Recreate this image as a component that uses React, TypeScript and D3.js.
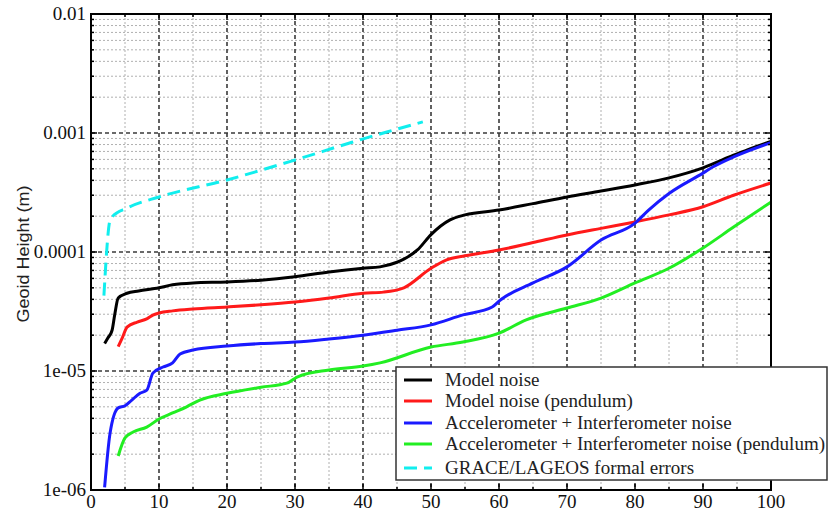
import React from 'react';
import * as d3 from 'd3';

// degree vs geoid height
const modelNoise: [number, number][] = [
  [2, 1.7e-5], [2.5, 1.9e-5], [3.1, 2.2e-5], [3.5, 3e-5], [4, 4.1e-5], [5.3, 4.5e-5], [7, 4.7e-5],
  [10, 5.0e-5], [12, 5.3e-5], [15, 5.5e-5], [20, 5.6e-5], [25, 5.8e-5], [30, 6.2e-5], [35, 6.8e-5],
  [40, 7.3e-5], [42.5, 7.5e-5], [45, 8.2e-5], [46, 8.7e-5], [48, 1.04e-4], [50, 1.4e-4],
  [52.8, 1.86e-4], [55, 2.05e-4], [60, 2.25e-4], [65, 2.55e-4], [70, 2.9e-4], [75, 3.25e-4],
  [80, 3.66e-4], [85, 4.2e-4], [90, 5.1e-4], [94.5, 6.5e-4], [97, 7.4e-4], [100, 8.5e-4],
];
const modelNoisePendulum: [number, number][] = [
  [4, 1.6e-5], [4.6, 1.9e-5], [5.3, 2.34e-5], [6.8, 2.58e-5], [8.2, 2.74e-5], [9.1, 2.95e-5],
  [10, 3.07e-5], [12, 3.2e-5], [15, 3.32e-5], [20, 3.45e-5], [25, 3.6e-5], [30, 3.8e-5],
  [35, 4.1e-5], [40, 4.5e-5], [43, 4.6e-5], [46, 5.0e-5], [50, 7.3e-5], [52.3, 8.6e-5],
  [55, 9.3e-5], [60, 1.04e-4], [65, 1.2e-4], [70, 1.39e-4], [75, 1.58e-4], [80, 1.79e-4],
  [85, 2.05e-4], [90, 2.4e-4], [94.5, 3.0e-4], [100, 3.8e-4],
];
const accelNoise: [number, number][] = [
  [2, 1.05e-6], [2.8, 3e-6], [4, 4.9e-6], [5, 5.1e-6], [6, 5.7e-6], [7.2, 6.5e-6], [8.2, 6.9e-6],
  [9.1, 9.6e-6], [10.6, 1.08e-5], [12, 1.17e-5], [13.1, 1.39e-5], [15, 1.5e-5], [20, 1.62e-5],
  [25, 1.7e-5], [30, 1.75e-5], [35, 1.86e-5], [40, 2.0e-5], [45, 2.2e-5], [50, 2.44e-5],
  [54.7, 2.96e-5], [59, 3.45e-5], [60.2, 3.95e-5], [65, 5.5e-5], [70, 7.5e-5], [75, 1.26e-4],
  [80, 1.75e-4], [82, 2.25e-4], [85, 3.1e-4], [90, 4.6e-4], [91.5, 5.2e-4], [94.5, 6.3e-4],
  [100, 8.3e-4],
];
const accelNoisePendulum: [number, number][] = [
  [4, 1.93e-6], [5, 2.74e-6], [6.2, 3.07e-6], [8.2, 3.38e-6], [10, 3.95e-6], [12, 4.44e-6],
  [14, 4.98e-6], [16, 5.7e-6], [20, 6.5e-6], [25, 7.3e-6], [28.8, 7.9e-6], [30.3, 8.9e-6],
  [35, 1.02e-5], [40, 1.1e-5], [42.5, 1.17e-5], [50, 1.59e-5], [54.7, 1.75e-5], [60, 2.08e-5],
  [64, 2.69e-5], [70, 3.38e-5], [75, 4.1e-5], [80, 5.5e-5], [85, 7.3e-5], [90, 1.08e-4],
  [94.5, 1.62e-4], [100, 2.63e-4],
];
const graceErrors: [number, number][] = [
  [1.9, 4.3e-5], [2.8, 1.86e-4], [3.1, 1.97e-4], [5.3, 2.34e-4], [10, 2.9e-4], [20, 4.03e-4],
  [30, 5.93e-4], [38.5, 8.4e-4], [43.5, 1.02e-3], [48.8, 1.24e-3],
];

const series = [
  { name: 'Model noise', data: modelNoise, color: '#000000', dash: null },
  { name: 'Model noise (pendulum)', data: modelNoisePendulum, color: '#ff1a1a', dash: null },
  { name: 'Accelerometer + Interferometer noise', data: accelNoise, color: '#1a1aff', dash: null },
  { name: 'Accelerometer + Interferometer noise (pendulum)', data: accelNoisePendulum, color: '#22ee22', dash: null },
  { name: 'GRACE/LAGEOS formal errors', data: graceErrors, color: '#11eeee', dash: '13,7' },
];

const xTicks = [0, 10, 20, 30, 40, 50, 60, 70, 80, 90, 100];
const yTicks = [1e-2, 1e-3, 1e-4, 1e-5, 1e-6];
const yTickLabels = ['0.01', '0.001', '0.0001', '1e-05', '1e-06'];

const W = 838;
const H = 516;
const left = 91, right = 771, top = 14, bottom = 490;

export default function App() {
  const x = d3.scaleLinear().domain([0, 100]).range([left, right]);
  const y = d3.scaleLog().domain([1e-6, 1e-2]).range([bottom, top]);

  const line = d3
    .line<[number, number]>()
    .x((d) => x(d[0]))
    .y((d) => y(d[1]))
    .curve(d3.curveMonotoneX);

  const xMinor = d3.range(5, 100, 10);
  const yMinor: number[] = [];
  for (let e = -6; e < -2; e++) {
    for (let m = 2; m <= 9; m++) yMinor.push(m * Math.pow(10, e));
  }

  const serif = '"Liberation Serif", "Times New Roman", serif';

  return (
    <svg width={W} height={H} style={{ position: 'absolute', left: 0, top: 0, background: '#fff' }}>
      {/* minor grid */}
      <g stroke="#b0b0b0" strokeWidth={1} strokeDasharray="2,2">
        {xMinor.map((v) => (
          <line key={'xm' + v} x1={x(v)} x2={x(v)} y1={top} y2={bottom} />
        ))}
        {yMinor.map((v) => (
          <line key={'ym' + v} x1={left} x2={right} y1={y(v)} y2={y(v)} />
        ))}
      </g>
      {/* major grid */}
      <g stroke="#3a3a3a" strokeWidth={1.6} strokeDasharray="4,3">
        {xTicks.slice(1, -1).map((v) => (
          <line key={'xg' + v} x1={x(v)} x2={x(v)} y1={top} y2={bottom} />
        ))}
        {yTicks.slice(1, -1).map((v) => (
          <line key={'yg' + v} x1={left} x2={right} y1={y(v)} y2={y(v)} />
        ))}
      </g>

      {/* series */}
      {series.map((s) => (
        <path
          key={s.name}
          d={line(s.data) || ''}
          fill="none"
          stroke={s.color}
          strokeWidth={3}
          strokeDasharray={s.dash || undefined}
          strokeLinejoin="round"
        />
      ))}

      {/* ticks on frame */}
      <g stroke="#000" strokeWidth={1.5}>
        {xTicks.map((v) => (
          <g key={'xt' + v}>
            <line x1={x(v)} x2={x(v)} y1={bottom} y2={bottom - 6} />
            <line x1={x(v)} x2={x(v)} y1={top} y2={top + 6} />
          </g>
        ))}
        {xMinor.map((v) => (
          <g key={'xmt' + v}>
            <line x1={x(v)} x2={x(v)} y1={bottom} y2={bottom - 3} />
            <line x1={x(v)} x2={x(v)} y1={top} y2={top + 3} />
          </g>
        ))}
        {yTicks.map((v) => (
          <g key={'yt' + v}>
            <line x1={left} x2={left + 6} y1={y(v)} y2={y(v)} />
            <line x1={right} x2={right - 6} y1={y(v)} y2={y(v)} />
          </g>
        ))}
        {yMinor.map((v) => (
          <g key={'ymt' + v}>
            <line x1={left} x2={left + 3} y1={y(v)} y2={y(v)} />
            <line x1={right} x2={right - 3} y1={y(v)} y2={y(v)} />
          </g>
        ))}
      </g>
      <rect x={left} y={top} width={right - left} height={bottom - top} fill="none" stroke="#000" strokeWidth={2} />

      {/* tick labels */}
      <g fontFamily={serif} fontSize={19} fill="#111">
        {xTicks.map((v) => (
          <text key={'xl' + v} x={x(v)} y={bottom + 18} textAnchor="middle">
            {v}
          </text>
        ))}
        {yTicks.map((v, i) => (
          <text key={'yl' + v} x={left - 5} y={y(v) + 6} textAnchor="end">
            {yTickLabels[i]}
          </text>
        ))}
      </g>
      <text
        transform={`translate(29, ${(top + bottom) / 2 + 2}) rotate(-90)`}
        textAnchor="middle"
        fontFamily='"Liberation Sans", Arial, sans-serif'
        fontSize={16}
        textLength={137}
        lengthAdjust="spacingAndGlyphs"
        fill="#222"
      >
        Geoid Height (m)
      </text>

      {/* legend */}
      <g>
        <rect x={396} y={367} width={431} height={113} fill="#fff" stroke="#333" strokeWidth={1.5} />
        {series.map((s, i) => {
          const cy = [380, 401, 423, 444, 468][i];
          return (
            <g key={'lg' + s.name}>
              <line x1={404} x2={432} y1={cy} y2={cy} stroke={s.color} strokeWidth={3} strokeDasharray={s.dash ? '13,7' : undefined} />
              <text x={445} y={cy + 6} fontFamily={serif} fontSize={19} fill="#222">
                {s.name}
              </text>
            </g>
          );
        })}
      </g>
    </svg>
  );
}
